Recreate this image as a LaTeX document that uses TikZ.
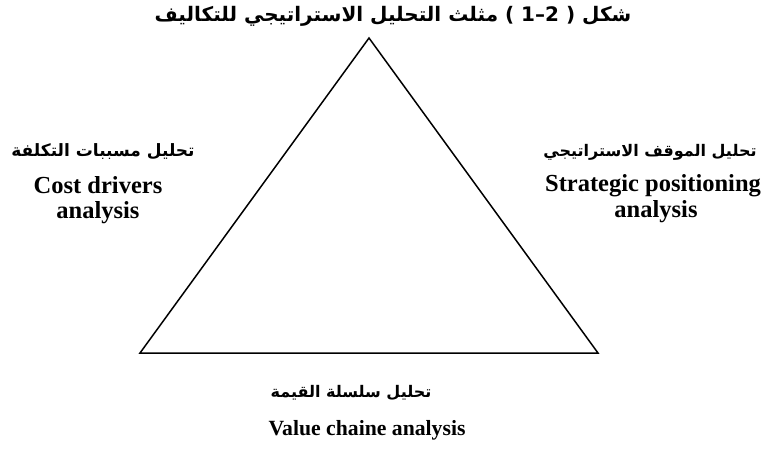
\documentclass[tikz,border=0pt]{standalone}
\usepackage{fontspec}
\setmainfont{Liberation Serif}
\newfontfamily\arabicfont[Script=Arabic]{DejaVu Sans}
\TeXXeTstate=1
\tikzset{
  en/.style={font=\bfseries\fontsize{24.5}{26}\selectfont, inner sep=0pt, anchor=base},
  enb/.style={font=\bfseries\fontsize{21.7}{24}\selectfont, inner sep=0pt, anchor=base},
  ar/.style={font=\arabicfont\bfseries\fontsize{16}{19}\selectfont, inner sep=0pt, anchor=base},
  tri/.style={line width=1.5pt, line join=miter}
}
\begin{document}
\begin{tikzpicture}[x=1pt,y=-1pt]
\useasboundingbox (0,0) rectangle (769,456);
\node[ar, font=\arabicfont\bfseries\fontsize{20}{24}\selectfont] (title) at (393,21) {\beginR شكل \beginL) 2–1 (\endL{} مثلث التحليل الاستراتيجي للتكاليف\endR};
\coordinate (A) at (369,38);
\coordinate (B) at (140,353);
\coordinate (C) at (598,353);
\draw[tri] (A) -- (B) -- (C) -- cycle;
\node[ar, font=\arabicfont\bfseries\fontsize{17}{20}\selectfont] (l1) at (103,156) {\beginR تحليل مسببات التكلفة\endR};
\node[en] (l2) at (98,193) {Cost drivers};
\node[en] (l3) at (98,218) {analysis};
\node[ar] (r1) at (650,156) {\beginR تحليل الموقف الاستراتيجي\endR};
\node[en] (r2) at (653,191) {Strategic positioning};
\node[en] (r3) at (656,217) {analysis};
\node[ar] (b1) at (351,397) {\beginR تحليل سلسلة القيمة\endR};
\node[enb] (b2) at (367,435) {Value chaine analysis};
\end{tikzpicture}
\end{document}
